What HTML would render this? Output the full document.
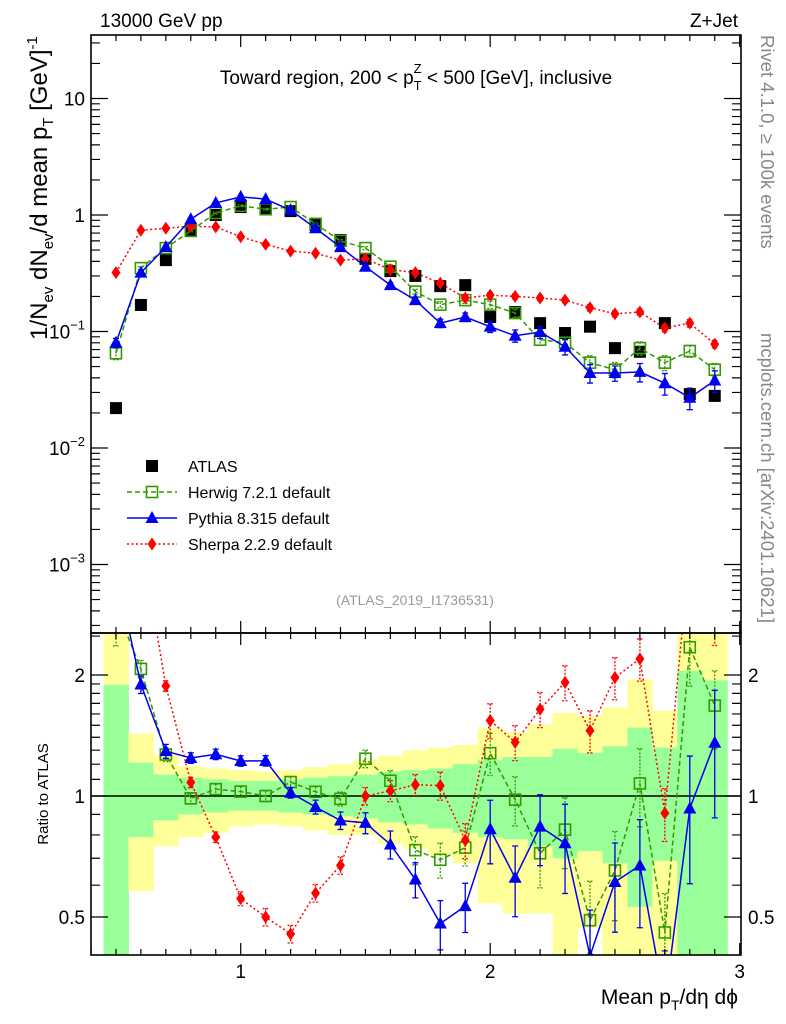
<!DOCTYPE html>
<html><head><meta charset="utf-8"><style>
html,body{margin:0;padding:0;background:#fff;overflow:hidden;width:786px;height:1024px}
svg{display:block;font-family:"Liberation Sans",sans-serif}
</style></head><body>
<svg id="c" width="786" height="1024" viewBox="0 0 786 1024">
<defs>
<clipPath id="cm"><rect x="91" y="35" width="650" height="598"/></clipPath>
<clipPath id="cr"><rect x="91" y="633" width="650" height="322"/></clipPath>
</defs>
<g id="bands" clip-path="url(#cr)"></g>
<g id="main" clip-path="url(#cm)"></g>
<g id="ratio" clip-path="url(#cr)"></g>
<g id="axes"></g>
<text x="100" y="27" font-size="19">13000 GeV pp</text>
<text x="738" y="27" font-size="19" text-anchor="end">Z+Jet</text>
<text x="416" y="84" font-size="19" text-anchor="middle">Toward region, 200 &lt; p<tspan font-size="13" dy="6">T</tspan><tspan font-size="13" dx="-8" dy="-17">Z</tspan><tspan dy="11"> &lt; 500 [GeV], inclusive</tspan></text>
<text transform="translate(47,188) rotate(-90)" font-size="24" text-anchor="middle">1/N<tspan font-size="15" dy="6">ev</tspan><tspan dy="-6"> dN</tspan><tspan font-size="15" dy="6">ev</tspan><tspan dy="-6">/d mean p</tspan><tspan font-size="15" dy="6">T</tspan><tspan dy="-6"> [GeV]</tspan><tspan font-size="15" dy="-10">-1</tspan></text>
<text transform="translate(48,794) rotate(-90)" font-size="15" text-anchor="middle">Ratio to ATLAS</text>
<text x="738" y="1004" font-size="21" text-anchor="end">Mean p<tspan font-size="14" dy="6">T</tspan><tspan dy="-6">/dη dϕ</tspan></text>
<text transform="translate(761,35) rotate(90)" font-size="18.5" fill="#888">Rivet 4.1.0, ≥ 100k events</text>
<text transform="translate(761,333) rotate(90)" font-size="18.5" fill="#888">mcplots.cern.ch [arXiv:2401.10621]</text>
<text x="415" y="605" font-size="14" fill="#999" text-anchor="middle">(ATLAS_2019_I1736531)</text>
<g id="legend"></g>
</svg>
<script>
const xs=[0.5,0.6,0.7,0.8,0.9,1.0,1.1,1.2,1.3,1.4,1.5,1.6,1.7,1.8,1.9,2.0,2.1,2.2,2.3,2.4,2.5,2.6,2.7,2.8,2.9];
const atlas=[0.022,0.169,0.41,0.74,1.0,1.17,1.12,1.08,0.82,0.61,0.42,0.33,0.30,0.245,0.25,0.133,0.147,0.118,0.097,0.11,0.072,0.067,0.118,0.029,0.028];
const herwig=[0.065,0.35,0.52,0.73,1.04,1.2,1.12,1.17,0.84,0.6,0.52,0.36,0.22,0.17,0.186,0.17,0.144,0.085,0.08,0.054,0.047,0.072,0.054,0.068,0.047];
const pythia=[0.08,0.32,0.53,0.92,1.27,1.43,1.37,1.10,0.77,0.53,0.36,0.25,0.186,0.118,0.133,0.11,0.092,0.099,0.074,0.044,0.044,0.045,0.036,0.027,0.038];
const sherpa=[0.32,0.74,0.77,0.80,0.79,0.65,0.56,0.49,0.47,0.41,0.42,0.34,0.32,0.26,0.194,0.205,0.2,0.194,0.186,0.16,0.142,0.147,0.107,0.118,0.078];
const herwigErr=[0.2,0.05,0.04,0.03,0.03,0.03,0.03,0.03,0.03,0.04,0.05,0.06,0.08,0.1,0.1,0.12,0.14,0.18,0.2,0.25,0.25,0.22,0.25,0.2,0.22];
const pythiaErr=[0.15,0.05,0.04,0.03,0.03,0.03,0.03,0.03,0.04,0.05,0.06,0.08,0.1,0.14,0.14,0.18,0.2,0.2,0.25,0.3,0.25,0.3,0.35,0.35,0.35];
const sherpaErr=[0.05,0.03,0.03,0.03,0.03,0.04,0.05,0.05,0.05,0.05,0.05,0.06,0.06,0.08,0.1,0.1,0.1,0.1,0.1,0.12,0.12,0.12,0.15,0.15,0.15];
const yellowHi=[10,1.43,1.27,1.185,1.17,1.16,1.15,1.16,1.18,1.20,1.23,1.26,1.30,1.32,1.34,1.48,1.44,1.51,1.61,1.58,1.66,1.95,1.63,10,10];
const yellowLo=[0.3,0.58,0.75,0.79,0.81,0.84,0.85,0.84,0.82,0.80,0.80,0.76,0.74,0.71,0.68,0.54,0.51,0.51,0.3,0.47,0.3,0.3,0.3,0.3,0.3];
const greenHi=[1.89,1.21,1.13,1.11,1.10,1.09,1.09,1.10,1.11,1.12,1.13,1.15,1.16,1.17,1.20,1.23,1.25,1.25,1.31,1.28,1.33,1.48,1.32,2.05,1.94];
const greenLo=[0.3,0.79,0.87,0.90,0.91,0.92,0.92,0.91,0.90,0.89,0.88,0.86,0.85,0.83,0.81,0.79,0.78,0.75,0.70,0.73,0.68,0.53,0.69,0.3,0.3];
const xTicks=[1,2,3];
const yTicks=[10,1,0.1,0.01,0.001];
const yTickLabels=["10","1","10^-1","10^-2","10^-3"];
const rTicks=[0.5,1,2];
const rTickLabels=["0.5","1","2"];

const NS="http://www.w3.org/2000/svg";
const X=v=>91+(v-0.4)*249.5;
const Y=v=>215-Math.log10(v)*116.5;
const R=v=>796-Math.log2(v)*121;
function mk(tag,attrs,parent){const e=document.createElementNS(NS,tag);for(const k in attrs)e.setAttribute(k,attrs[k]);parent.appendChild(e);return e;}
const main=document.getElementById('main'),ratio=document.getElementById('ratio'),bands=document.getElementById('bands'),axes=document.getElementById('axes'),legend=document.getElementById('legend');

xs.forEach((x,i)=>{
  let y=mk('rect',{x:X(x-0.05),y:R(yellowHi[i]),width:X(x+0.05)-X(x-0.05)+0.5,height:R(yellowLo[i])-R(yellowHi[i]),fill:'#ffff99'},bands);
  
  
  let g=mk('rect',{x:X(x-0.05),y:R(greenHi[i]),width:X(x+0.05)-X(x-0.05)+0.5,height:R(greenLo[i])-R(greenHi[i]),fill:'#99ff99'},bands);
  
  
});

function marker(kind,cx,cy,parent,color){
  let e;
  if(kind==='sq') e=mk('rect',{x:cx-6,y:cy-6,width:12,height:12,fill:'#000'},parent);
  else if(kind==='osq') e=mk('rect',{x:cx-5.5,y:cy-5.5,width:11,height:11,fill:'none',stroke:color,'stroke-width':1.6},parent);
  else if(kind==='tri') e=mk('polygon',{points:`${cx},${cy-7} ${cx+6.5},${cy+5} ${cx-6.5},${cy+5}`,fill:color},parent);
  else e=mk('polygon',{points:`${cx},${cy-6.5} ${cx+4.5},${cy} ${cx},${cy+6.5} ${cx-4.5},${cy}`,fill:color},parent);
  return e;
}
function series(name,vals,errs,color,dash,kind,parent,Yf,ratioMode){
  const g=mk('g',{},parent);
  
  
  const v=ratioMode?vals.map((d,i)=>d/atlas[i]):vals;
  if(dash!==null){
    const pl=mk('polyline',{points:xs.map((x,i)=>X(x)+','+Yf(v[i])).join(' '),fill:'none',stroke:color,'stroke-width':1.5},g);
    if(dash)pl.setAttribute('stroke-dasharray',dash);
    
    
  }
  xs.forEach((x,i)=>{
    if(errs){
      const hi=Yf(v[i]*(1+errs[i])),lo=Yf(v[i]*Math.max(0.05,1-errs[i]));
      const eb=mk('path',{d:`M${X(x)},${hi}V${lo}M${X(x)-3},${hi}h6M${X(x)-3},${lo}h6`,stroke:color,'stroke-width':1.3,fill:'none'},g);
      if(dash)eb.setAttribute('stroke-dasharray','2,1.5');
      
      
    }
    const m=marker(kind,X(x),Yf(v[i]),g,color);
    
    
  });
}
series('atlas-data',atlas,null,'#000',null,'sq',main,Y,false);
series('herwig',herwig,herwigErr.map(e=>e*0.6),'#339900','5,3','osq',main,Y,false);
series('sherpa',sherpa,sherpaErr.map(e=>e*0.5),'#ff0000','2,2.5','dia',main,Y,false);
series('pythia',pythia,pythiaErr.map(e=>e*0.6),'#0000ee','','tri',main,Y,false);
const l1=mk('line',{x1:91,x2:741,y1:R(1),y2:R(1),stroke:'#000','stroke-width':1.5},ratio);


series('herwig-ratio',herwig,herwigErr,'#339900','5,3','osq',ratio,R,true);
series('sherpa-ratio',sherpa,sherpaErr,'#ff0000','2,2.5','dia',ratio,R,true);
series('pythia-ratio',pythia,pythiaErr,'#0000ee','','tri',ratio,R,true);

[[35,633],[633,955]].forEach(([t,b],k)=>{
  const f=mk('rect',{x:91,y:t,width:650,height:b-t,fill:'none',stroke:'#000','stroke-width':1.6},axes);
  
  
  for(let v=0.4;v<=3.001;v+=0.1){
    const major=Math.abs(v-Math.round(v))<1e-6;
    const L=major?12:6;
    mk('path',{d:`M${X(v)},${t}v${L}M${X(v)},${b}v${-L}`,stroke:'#000','stroke-width':1.2},axes);
  }
});
for(let d=-4;d<=1;d++){for(let m=1;m<10;m++){const v=m*Math.pow(10,d);const y=Y(v);if(y<35||y>633)continue;const L=m===1?17:9;
  mk('path',{d:`M91,${y}h${L}M741,${y}h${-L}`,stroke:'#000','stroke-width':1.2},axes);}}
yTicks.forEach((v,i)=>{
  const s=yTickLabels[i];const t=mk('text',{x:85,y:Y(v)+7,'font-size':19,'text-anchor':'end'},axes);
  if(s.includes('^')){const [b,e]=s.split('^');t.textContent=b;const ts=mk('tspan',{'font-size':13,dy:-9},t);ts.textContent=e.replace('-','−');}
  else t.textContent=s;
  
  
});
const rmin=[0.4,0.5,0.6,0.7,0.8,0.9,1,1.1,1.2,1.3,1.4,1.5,1.6,1.7,1.8,1.9,2,2.5];
rmin.forEach(v=>{const L=rTicks.includes(v)?17:9;const y=R(v);if(y<633||y>955)return;
  mk('path',{d:`M91,${y}h${L}M741,${y}h${-L}`,stroke:'#000','stroke-width':1.2},axes);});
rTicks.forEach((v,i)=>{
  const a=mk('text',{x:85,y:R(v)+7,'font-size':19,'text-anchor':'end'},axes);a.textContent=rTickLabels[i];
  
  
  const b=mk('text',{x:748,y:R(v)+7,'font-size':19},axes);b.textContent=rTickLabels[i];
  
  
});
xTicks.forEach(v=>{
  const t=mk('text',{x:X(v),y:978,'font-size':19,'text-anchor':'middle'},axes);t.textContent=String(v);
  
  
});
const leg=[['ATLAS','sq','#000',null],['Herwig 7.2.1 default','osq','#339900','5,3'],['Pythia 8.315 default','tri','#0000ee',''],['Sherpa 2.2.9 default','dia','#ff0000','2,2.5']];
leg.forEach((l,i)=>{
  const y=466+i*26;const g=mk('g',{},legend);
  
  
  if(l[3]!==null){const ln=mk('line',{x1:127,x2:177,y1:y,y2:y,stroke:l[2],'stroke-width':1.5},g);if(l[3])ln.setAttribute('stroke-dasharray',l[3]);}
  marker(l[1],152,y,g,l[2]);
  const t=mk('text',{x:188,y:y+6,'font-size':16},g);t.textContent=l[0];
});
</script>
</body></html>
